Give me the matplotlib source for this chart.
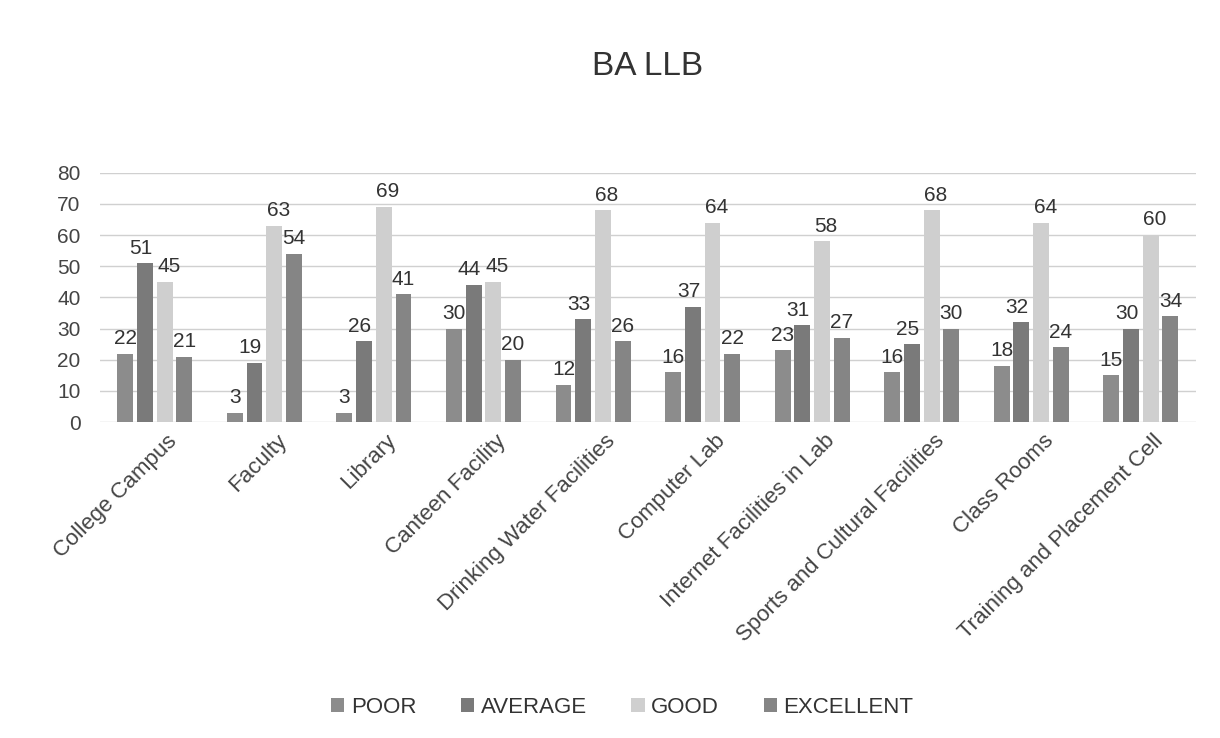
import matplotlib
matplotlib.use("Agg")
import matplotlib.pyplot as plt
import matplotlib.transforms as mtransforms
import numpy as np

categories = ["College Campus", "Faculty", "Library", "Canteen Facility",
              "Drinking Water Facilities", "Computer Lab", "Internet Facilities in Lab",
              "Sports and Cultural Facilities", "Class Rooms", "Training and Placement Cell"]
poor = [22, 3, 3, 30, 12, 16, 23, 16, 18, 15]
average = [51, 19, 26, 44, 33, 37, 31, 25, 32, 30]
good = [45, 63, 69, 45, 68, 64, 58, 68, 64, 60]
excellent = [21, 54, 41, 20, 26, 22, 27, 30, 24, 34]
series_names = ["POOR", "AVERAGE", "GOOD", "EXCELLENT"]
yticks = [0, 10, 20, 30, 40, 50, 60, 70, 80]

plt.rcParams['font.family'] = ['Liberation Sans', 'DejaVu Sans']
fig = plt.figure(figsize=(12.2, 7.38), dpi=100)
ax = fig.add_axes([0.082, 0.428, 0.898, 0.338])

colors = ["#8c8c8c", "#7a7a7a", "#cfcfcf", "#858585"]
label_shift = [0, -3, 3, 0]
data = [poor, average, good, excellent]
x = np.arange(len(categories))
step = 0.18
width = 0.145
for i, (vals, name, c) in enumerate(zip(data, series_names, colors)):
    pos = x + (i - 1.5) * step
    bars = ax.bar(pos, vals, width, color=c, label=name, zorder=2)
    anns = ax.bar_label(bars, labels=[str(v) for v in vals], padding=4, fontsize=15, color="#333333")
    for a in anns:
        dx, dy = a.xyann
        a.xyann = (dx + label_shift[i], dy)

ax.set_ylim(0, 80)
ax.set_xlim(-0.5, len(categories) - 0.5)
ax.set_yticks(yticks)
ax.tick_params(axis='y', length=0, labelsize=15, labelcolor="#444444", pad=14)
ax.yaxis.grid(True, color="#d0d0d0", linewidth=1, zorder=0)
ax.set_axisbelow(True)
for s in ax.spines.values():
    s.set_visible(False)
ax.set_xticks(x)
ax.set_xticklabels(categories, rotation=45, ha='right', rotation_mode='anchor',
                   fontsize=16, color="#444444")
ax.tick_params(axis='x', length=0, pad=6)
offset = mtransforms.ScaledTranslation(12 / 100, 0, fig.dpi_scale_trans)
for lbl in ax.get_xticklabels():
    lbl.set_transform(lbl.get_transform() + offset)
ax.set_title("BA LLB", fontsize=24, color="#333333", pad=70)

fig.legend(loc='lower center', bbox_to_anchor=(0.51, 0.0), ncol=4, frameon=False,
           fontsize=16, handlelength=0.6, handleheight=0.6, columnspacing=2.0,
           handletextpad=0.3, labelcolor="#333333")

fig.savefig("out.png", dpi=100, facecolor="white")
